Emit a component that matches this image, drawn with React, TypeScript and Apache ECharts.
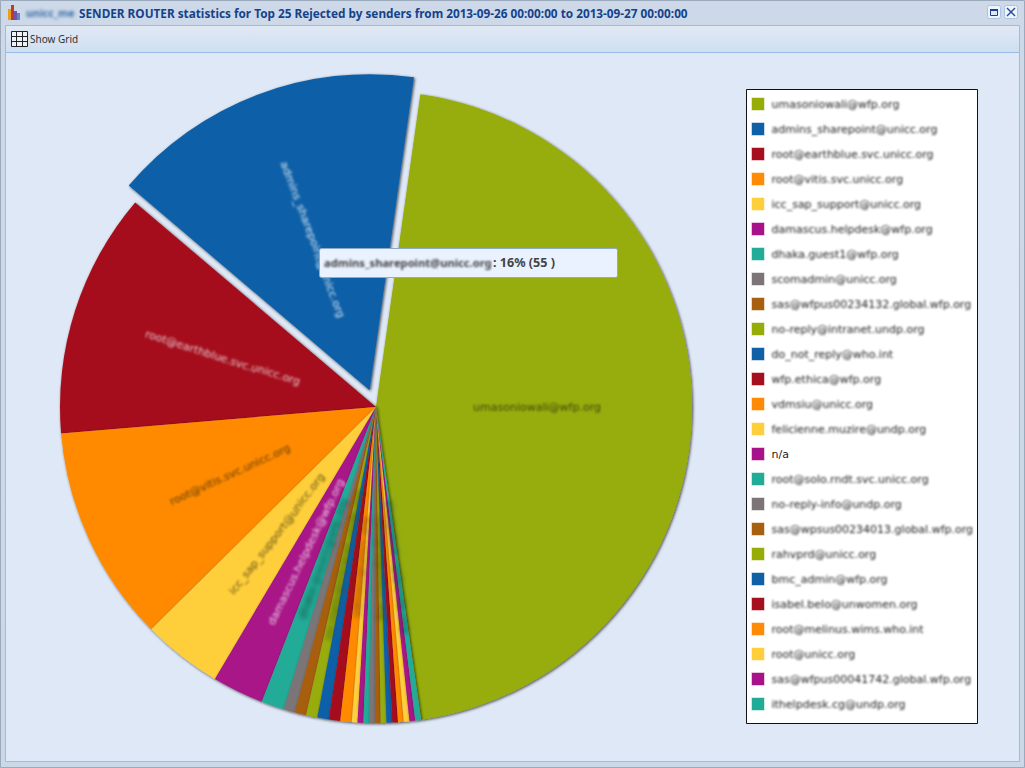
import React, { useEffect, useRef } from "react";
import * as echarts from "echarts";

const senders = [
  "umasoniowali@wfp.org", "admins_sharepoint@unicc.org", "root@earthblue.svc.unicc.org", "root@vitis.svc.unicc.org",
  "icc_sap_support@unicc.org", "damascus.helpdesk@wfp.org", "dhaka.guest1@wfp.org", "scomadmin@unicc.org",
  "sas@wfpus00234132.global.wfp.org", "no-reply@intranet.undp.org", "do_not_reply@who.int", "wfp.ethica@wfp.org",
  "vdmsiu@unicc.org", "felicienne.muzire@undp.org", "n/a", "root@solo.rndt.svc.unicc.org",
  "no-reply-info@undp.org", "sas@wpsus00234013.global.wfp.org", "rahvprd@unicc.org", "bmc_admin@wfp.org",
  "isabel.belo@unwomen.org", "root@melinus.wims.who.int", "root@unicc.org", "sas@wfpus00041742.global.wfp.org",
  "ithelpdesk.cg@undp.org",
];
const rejected = [156, 55, 43, 38, 14, 9, 4, 2, 2, 2, 2, 2, 2, 1, 1, 1, 1, 1, 1, 1, 1, 1, 1, 1, 1];
const palette = ["#96ad08", "#1060a8", "#a50f1e", "#ff8a06", "#ffcf3b", "#a81288", "#22ac98", "#7c7477", "#a85f10"];
const labelPalette = ["#3c450a", "#dbe6f2", "#e6c9cc", "#5a3a08", "#5e4d12", "#ecd0e6", "#123f38", "#dddddd", "#f0dcc4"];
const titlePrefix = "unicc_me";
const titleText = "SENDER ROUTER statistics for Top 25 Rejected by senders from 2013-09-26 00:00:00 to 2013-09-27 00:00:00";
const toolbarText = "Show Grid";
const tooltipName = "admins_sharepoint@unicc.org";
const tooltipValue = ": 16% (55 )";

const uiFont = "'Noto Sans', sans-serif";
const legendTextColor = "#222222";

function grad(a: string, b: string) {
  return new echarts.graphic.LinearGradient(0, 0, 0, 1, [
    { offset: 0, color: a },
    { offset: 1, color: b },
  ]);
}

function rect(x: number, y: number, w: number, h: number, fill: any, stroke?: string, z = -5, r = 0) {
  return { type: "rect", z, silent: true, shape: { x, y, width: w, height: h, r }, style: { fill, stroke: stroke || "none", lineWidth: stroke ? 1 : 0 } };
}
function line(x1: number, y1: number, x2: number, y2: number, stroke: string, lineWidth = 1, z = -4) {
  return { type: "line", z, silent: true, shape: { x1, y1, x2, y2 }, style: { stroke, lineWidth } };
}

function chrome() {
  const els: any[] = [
    rect(0, 0, 1025, 768, "#cbd8e8"),
    rect(0.5, 0.5, 1024, 767, grad("#cdd9e8", "#cbd8e8"), "#9aa9bb"),
    rect(5.5, 25.5, 1014, 27, grad("#e1e9f5", "#cfdff1"), "#99bce8"),
    rect(5.5, 52.5, 1014, 709, "#dfe8f6", "#99bce8"),
    // window icon
    rect(8, 9, 3, 11, "#e8a020", undefined, -3),
    rect(11, 5, 3, 15, "#c0392b", undefined, -3),
    rect(14, 11, 3, 9, "#7a4fa8", undefined, -3),
    rect(17, 13, 3, 7, "#4a90d0", undefined, -3),
    // grid icon
    rect(11.5, 31.5, 16, 15, "#eef3fa", "#222222", -3),
    line(16.5, 31.5, 16.5, 46.5, "#222222", 1, -2),
    line(22.5, 31.5, 22.5, 46.5, "#222222", 1, -2),
    line(11.5, 36.5, 27.5, 36.5, "#222222", 1, -2),
    line(11.5, 41.5, 27.5, 41.5, "#222222", 1, -2),
    // window buttons
    rect(987.5, 5.5, 13, 13, "#eef4fb", "#a9c3e2", -3, 2),
    rect(990.5, 9.5, 7, 6, "#dce8f6", "#1c3f94", -2),
    line(990, 10, 998, 10, "#1c3f94", 2, -2),
    rect(1004.5, 5.5, 13, 13, "#eef4fb", "#a9c3e2", -3, 2),
    line(1007, 8, 1015, 16, "#2a4a94", 1.5, -2),
    line(1015, 8, 1007, 16, "#2a4a94", 1.5, -2),
    // legend box
    rect(746.5, 89.5, 231, 634, "#ffffff", "#111111", -3),
    // texts
    { type: "text", z: 1, silent: true, x: 26, y: 13, style: { text: titlePrefix, fill: "#3d6fa8", font: `bold 10.5px ${uiFont}`, verticalAlign: "middle" } },
    { type: "text", z: 1, silent: true, x: 79, y: 13, style: { text: titleText, fill: "#15428b", font: `bold 11.77px ${uiFont}`, verticalAlign: "middle" } },
    { type: "text", z: 1, silent: true, x: 30, y: 39, style: { text: toolbarText, fill: "#333333", font: `10px ${uiFont}`, verticalAlign: "middle" } },
    // tooltip
    rect(319.5, 248.5, 298, 29, "#e9f2fe", "#8eaacf", 20, 2),
    { type: "text", z: 21, silent: true, x: 324, y: 262, style: { text: tooltipName, fill: "#444444", font: `bold 11.2px ${uiFont}`, verticalAlign: "middle" } },
    { type: "text", z: 21, silent: true, x: 493, y: 262, style: { text: tooltipValue, fill: "#444444", font: `bold 12.6px ${uiFont}`, verticalAlign: "middle" } },
  ];
  return els;
}

export default function App() {
  const ref = useRef<HTMLDivElement>(null);
  useEffect(() => {
    document.body.style.margin = "0";
    const chart = echarts.init(ref.current!, undefined, { renderer: "svg" });
    chart.setOption({
      animation: false,
      color: palette,
      graphic: { elements: chrome() },
      legend: {
        orient: "vertical",
        left: 751,
        top: 97,
        padding: 0,
        itemWidth: 13,
        itemHeight: 13,
        itemGap: 11,
        icon: "rect",
        selectedMode: false,
        data: senders,
        itemStyle: { shadowBlur: 0, shadowColor: "transparent", shadowOffsetX: 0, shadowOffsetY: 0, borderWidth: 1, borderColor: "rgba(255,255,255,0.5)" },
        textStyle: { fontFamily: "'DejaVu Sans'", fontSize: 11, color: legendTextColor, padding: [0, 0, 0, 2] },
      },
      series: [
        {
          type: "pie",
          center: [376, 407],
          radius: 316,
          startAngle: -81.8,
          clockwise: false,
          selectedMode: "single",
          selectedOffset: 18,
          avoidLabelOverlap: false,
          minShowLabelAngle: 0,
          stillShowZeroSum: false,
          emphasis: { disabled: true },
          itemStyle: { shadowColor: "rgba(0,0,0,0.7)", shadowBlur: 3, shadowOffsetX: 1, shadowOffsetY: 1, borderWidth: 0 },
          label: { show: true, position: "inside", rotate: "radial", formatter: "{b}", fontFamily: "'DejaVu Sans'", fontSize: 11 },
          labelLine: { show: false },
          data: senders.map((name, i) => ({
            name,
            value: rejected[i],
            selected: i === 1,
            label: { color: labelPalette[i % labelPalette.length] },
          })),
        },
      ],
    });
    ref.current?.querySelectorAll("text").forEach((t) => {
      const s = t.textContent || "";
      const fill = (t.getAttribute("fill") || "").toLowerCase();
      const index = senders.indexOf(s);
      const isSliceLabel = index >= 0 && !fill.includes("222222") && !fill.includes("34, 34, 34");
      if (s === titlePrefix) (t as any).style.filter = "blur(1.5px)";
      else if (isSliceLabel && rejected[index] <= 4) (t as any).style.filter = "blur(2.4px)";
      else if (s.includes("@")) (t as any).style.filter = "blur(1.3px)";
    });
    return () => chart.dispose();
  }, []);
  return <div ref={ref} style={{ width: 1025, height: 768 }} />;
}
